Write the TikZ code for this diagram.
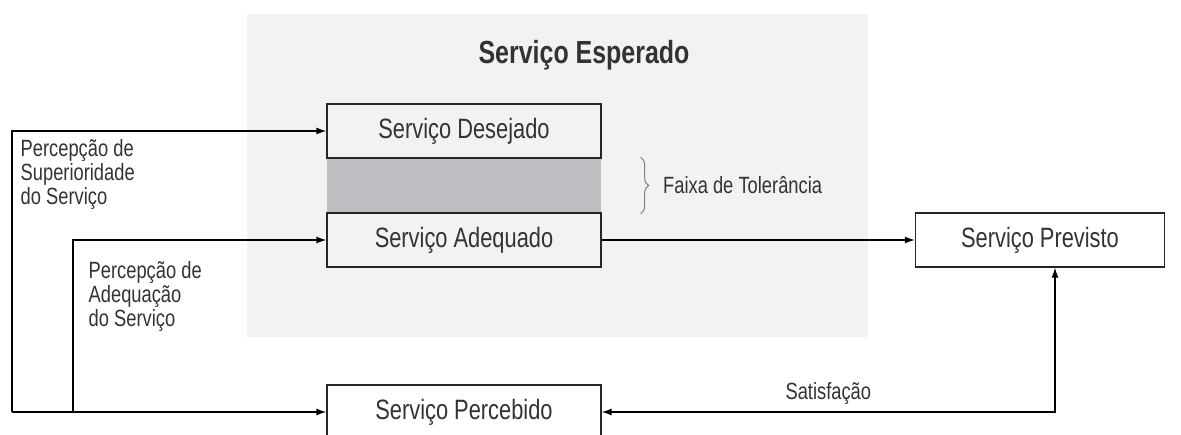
\documentclass[tikz,border=0pt]{standalone}
\usepackage{fontspec}
\setmainfont{Liberation Sans}[FakeStretch=0.78]
\usetikzlibrary{arrows.meta,decorations.pathreplacing}
\definecolor{fundo}{HTML}{F2F2F2}
\definecolor{faixa}{HTML}{BDBEC2}
\definecolor{texto}{HTML}{333333}
\begin{document}
\begin{tikzpicture}[x=1pt, y=-1pt, line width=1.3pt, >={Latex[length=10pt,width=7pt]},
  main/.style = {draw=black!85, rectangle, minimum width=274pt, minimum height=54pt, inner sep=0pt, font=\fontsize{28}{32}\selectfont, text=texto},
  lbl/.style = {align=left, inner sep=0pt, font=\fontsize{23.5}{24}\selectfont, text=texto}]
\useasboundingbox (0,0) rectangle (1181,434);
\fill[fundo] (247,14) rectangle (868,337);
\node[font=\bfseries\fontsize{32}{36}\selectfont, text=texto] (esperado) at (584,55) {Serviço Esperado};
\node[fill=faixa, minimum width=274pt, minimum height=55pt, inner sep=0pt] (faixa) at (464,185.5) {};
\node[main] (desejado) at (464,131) {Serviço Desejado};
\node[main] (adequado) at (464,240) {Serviço Adequado};
\node[main, minimum width=249pt] (previsto) at (1040,240) {Serviço Previsto};
\node[main] (percebido) at (464,412) {Serviço Percebido};
\node[lbl, anchor=north west] (superior) at (20,139) {Percepção de\\Superioridade\\do Serviço};
\node[lbl, anchor=north west] (adequacao) at (88,261) {Percepção de\\Adequação\\do Serviço};
\coordinate (canto) at (12,412);
\coordinate (meio) at (73,412);
\draw[->] (canto) -- (percebido);
\draw[->] (canto) |- (desejado);
\draw[->] (meio) |- (adequado);
\draw[->] (adequado) -- (previsto);
\draw[<->] (percebido) -| node[lbl, pos=0.25, above=7pt] (satisfacao) {Satisfação} ([xshift=15pt]previsto.south);
\draw[draw=gray, line width=1pt, decorate, decoration={brace, amplitude=8pt}] ([xshift=39pt]faixa.north east) -- ([xshift=39pt]faixa.south east) node[lbl, midway, right=22pt] (tolerancia) {Faixa de Tolerância};
\end{tikzpicture}
\end{document}
